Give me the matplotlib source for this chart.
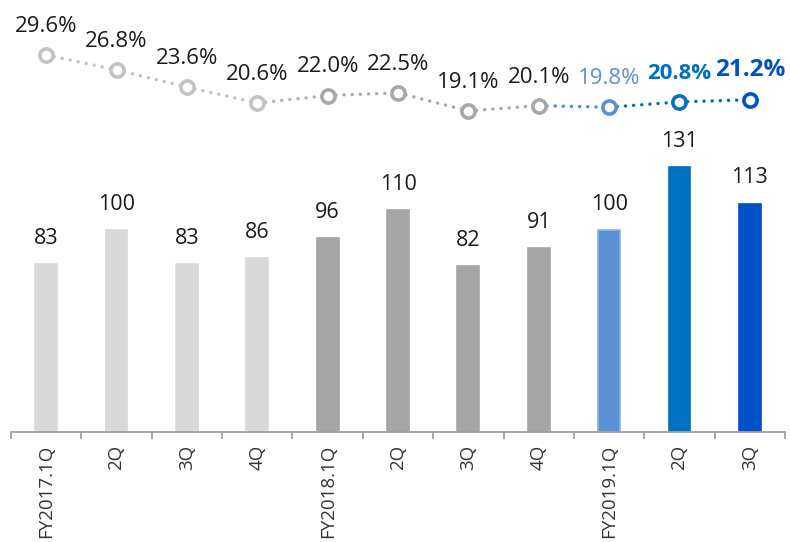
import matplotlib
matplotlib.use("Agg")
import matplotlib.pyplot as plt
import numpy as np

plt.rcParams['font.family'] = ['Open Sans', 'DejaVu Sans']

labels = ["FY2017.1Q", "2Q", "3Q", "4Q", "FY2018.1Q", "2Q", "3Q", "4Q", "FY2019.1Q", "2Q", "3Q"]
bar_values = [83, 100, 83, 86, 96, 110, 82, 91, 100, 131, 113]
ratio_values = [29.6, 26.8, 23.6, 20.6, 22.0, 22.5, 19.1, 20.1, 19.8, 20.8, 21.2]

bar_colors = ["#d9d9d9"] * 4 + ["#a5a5a5"] * 4 + ["#5b8fd6", "#0070c0", "#0050c8"]
bar_edges = ["#d9d9d9"] * 4 + ["#a5a5a5"] * 4 + ["#8cb3e8", "#0070c0", "#0050c8"]
marker_colors = ["#c3c3c3"] * 4 + ["#a8a8a8"] * 4 + ["#5b8fd6", "#0070c0", "#0050c8"]
seg_colors = ["#c3c3c3"] * 3 + ["#b3b3b3"] + ["#a8a8a8"] * 3 + ["#4a88d8", "#0070c0", "#0064c4"]
ratio_text_colors = ["#1a1a1a"] * 8 + ["#5b8fd6", "#0070c0", "#0050c8"]
ratio_weights = ["normal"] * 9 + ["bold", "bold"]
ratio_sizes = [16] * 10 + [17.5]

fig = plt.figure(figsize=(7.9, 5.42), dpi=100)
ax = fig.add_axes([11 / 790, 1 - 432 / 542, 774 / 790, 432 / 542])
x = np.arange(len(labels))

ax.bar(x, bar_values, width=0.31, color=bar_colors, edgecolor=bar_edges, linewidth=1.2, zorder=2)
ax.set_xlim(-0.5, len(labels) - 0.5)
ax.set_ylim(0, 432 / 2.02)
for xi, v in zip(x, bar_values):
    ax.annotate(f"{v}", (xi, v), xytext=(0, 11), textcoords="offset points",
                ha="center", va="bottom", fontsize=15.5, color="#1a1a1a")

for s in ["top", "right", "left"]:
    ax.spines[s].set_visible(False)
ax.spines["bottom"].set_color("#a0a0a0")
ax.spines["bottom"].set_linewidth(1.3)
ax.set_yticks([])
ax.set_xticks(x)
ax.set_xticklabels(labels, rotation=90, fontsize=13.5, color="#333333")
ax.tick_params(axis="x", which="major", length=0, pad=9)
ax.set_xticks(np.arange(-0.5, len(labels)), minor=True)
ax.tick_params(axis="x", which="minor", length=5, width=1.3, color="#a0a0a0")

ax2 = ax.twinx()
ax2.set_ylim(29.6 - (432 - 55) / 5.33, 29.6 + 55 / 5.33)
ax2.set_yticks([])
for s in ax2.spines.values():
    s.set_visible(False)
for i in range(len(x) - 1):
    ax2.plot(x[i:i + 2], ratio_values[i:i + 2], color=seg_colors[i], lw=2.4,
             linestyle=(0, (0.05, 2.4)), dash_capstyle="round", zorder=3)
for xi, v, c in zip(x, ratio_values, marker_colors):
    ax2.plot([xi], [v], marker="o", ms=9.5, mfc="white", mec=c, mew=2.6, zorder=4)
for xi, v, c, w, fs in zip(x, ratio_values, ratio_text_colors, ratio_weights, ratio_sizes):
    ax2.annotate(f"{v:.1f}%", (xi, v), xytext=(0, 13), textcoords="offset points",
                 ha="center", va="bottom", fontsize=fs, color=c, fontweight=w)

fig.savefig("out.png", dpi=100)
